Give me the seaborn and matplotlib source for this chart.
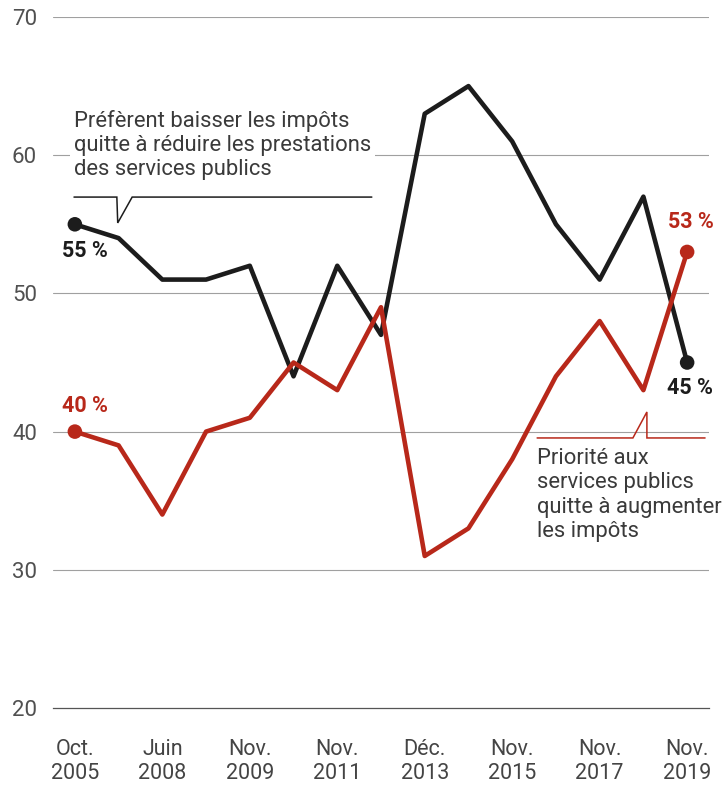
import matplotlib
matplotlib.use("Agg")
import matplotlib.pyplot as plt
import seaborn as sns
import pandas as pd

# ---- data ----
surveys = list(range(15))
black_values = [55, 54, 51, 51, 52, 44, 52, 47, 63, 65, 61, 55, 51, 57, 45]
red_values = [40, 39, 34, 40, 41, 45, 43, 49, 31, 33, 38, 44, 48, 43, 53]
tick_positions = [0, 2, 4, 6, 8, 10, 12, 14]
tick_labels = ["Oct.\n2005", "Juin\n2008", "Nov.\n2009", "Nov.\n2011",
               "Déc.\n2013", "Nov.\n2015", "Nov.\n2017", "Nov.\n2019"]
y_ticks = [20, 30, 40, 50, 60, 70]

BLACK = "#1c1c1c"
RED = "#b8281a"
TEXT = "#3a3a3a"
GRID = "#a0a0a0"

sns.set_theme(style="white")
plt.rcParams['font.family'] = ['Roboto', 'DejaVu Sans']

df = pd.DataFrame({"x": surveys * 2,
                   "y": black_values + red_values,
                   "s": ["black"] * 15 + ["red"] * 15})

fig = plt.figure(figsize=(7.26, 7.87), dpi=100)
ax = fig.add_axes([53 / 726, 79 / 787, 656 / 726, 691 / 787])

for yv in y_ticks[1:]:
    ax.axhline(yv, color=GRID, lw=0.8, zorder=0)

sns.lineplot(data=df, x="x", y="y", hue="s", palette={"black": BLACK, "red": RED},
             lw=3.3, legend=False, ax=ax, zorder=3)
ends = df[df["x"].isin([0, 14])]
sns.scatterplot(data=ends, x="x", y="y", hue="s", palette={"black": BLACK, "red": RED},
                s=110, edgecolor="none", legend=False, ax=ax, zorder=4)

ax.set_xlim(-0.5, 14.5)
ax.set_ylim(20, 70)
ax.set_yticks(y_ticks)
ax.set_yticklabels([str(v) for v in y_ticks], color="#505050", fontsize=16)
ax.set_xticks([i - 0.5 for i in range(16)])
ax.set_xticklabels([])
ax.set_xticks(tick_positions, minor=True)
ax.set_xticklabels(tick_labels, minor=True, color="#444444", fontsize=15.5, linespacing=1.2)
ax.tick_params(axis="x", which="major", length=7, width=0.9, color="#555555", direction="out")
ax.tick_params(axis="x", which="minor", length=0, pad=22)
ax.tick_params(axis="y", length=0, pad=11.5)
ax.set_xlabel("")
ax.set_ylabel("")
for side in ["top", "right", "left"]:
    ax.spines[side].set_visible(False)
ax.spines["bottom"].set_color("#555555")
ax.spines["bottom"].set_linewidth(0.9)

# annotation text, black series
ax.text(-0.02, 63.3, "Préfèrent baisser les impôts\nquitte à réduire les prestations\ndes services publics",
        ha="left", va="top", fontsize=15.8, color=TEXT, linespacing=1.2,
        bbox=dict(facecolor="white", edgecolor="none", pad=3), zorder=5)
ax.plot([-0.02, 0.96, 0.98, 1.31, 6.79], [56.97, 56.97, 55.1, 56.97, 56.97],
        color=BLACK, lw=1.1, zorder=5, solid_joinstyle="miter")

# annotation text, red series
ax.text(10.57, 38.8, "Priorité aux\nservices publics\nquitte à augmenter\nles impôts",
        ha="left", va="top", fontsize=15.8, color=TEXT, linespacing=1.2, zorder=5)
ax.plot([10.57, 12.76, 13.08, 13.08, 14.41], [39.54, 39.54, 41.42, 39.54, 39.54],
        color=RED, lw=1.1, zorder=5, solid_joinstyle="miter")

# value labels
ax.text(-0.3, 53.1, "55 %", ha="left", va="center", fontsize=15.5, fontweight="bold", color=BLACK)
ax.text(-0.3, 41.85, "40 %", ha="left", va="center", fontsize=15.5, fontweight="bold", color=RED)
ax.text(13.56, 55.17, "53 %", ha="left", va="center", fontsize=15.5, fontweight="bold", color=RED)
ax.text(13.54, 43.15, "45 %", ha="left", va="center", fontsize=15.5, fontweight="bold", color=BLACK)

fig.savefig("out.png", dpi=100)
